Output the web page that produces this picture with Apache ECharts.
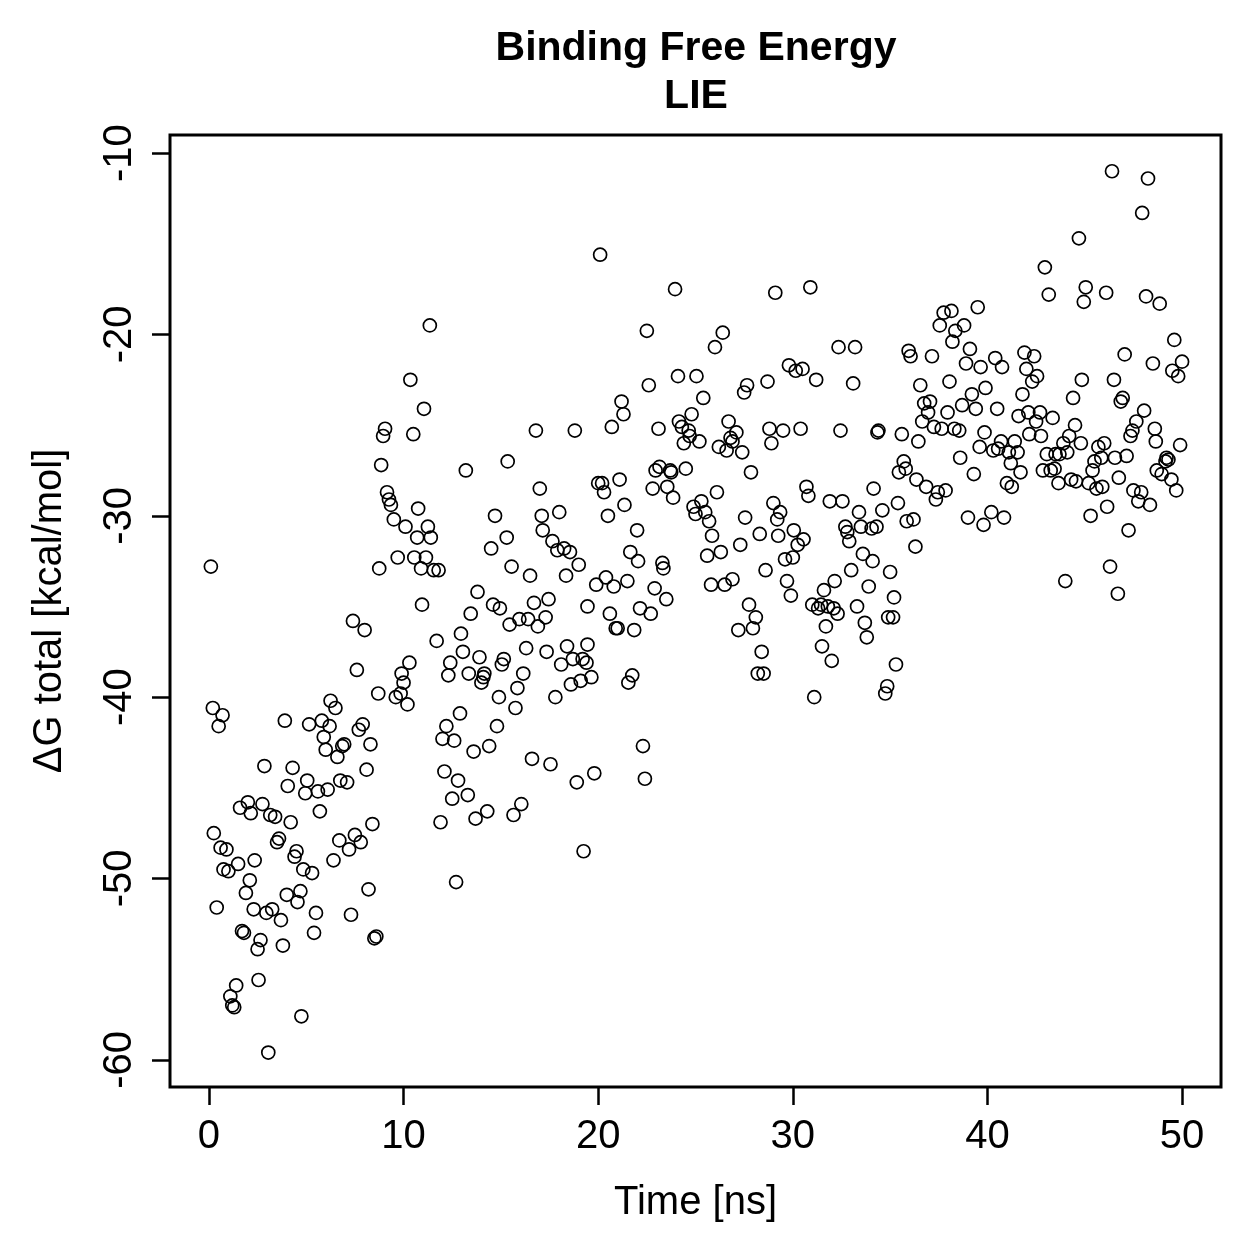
<!DOCTYPE html>
<html>
<head>
<meta charset="utf-8">
<script src="https://cdn.jsdelivr.net/npm/echarts@6/dist/echarts.min.js"></script>
<style>html,body{margin:0;padding:0;background:#fff}#c{width:1259px;height:1259px}</style>
</head>
<body>
<div id="c"></div>
<script>
// Time [ns]
const timeNs = [
0.1,0.2,0.7,0.5,0.25,0.6,0.9,0.4,0.75,1.0,1.1,1.2,1.3,1.4,1.5,1.6,1.7,1.8,1.9,2.0,
2.1,2.15,2.3,2.35,2.5,2.55,2.65,2.75,2.85,2.95,3.05,3.15,3.25,3.4,3.5,3.6,3.7,3.8,3.9,4.0,
4.05,4.2,4.3,4.4,4.5,4.55,4.7,4.75,4.85,4.95,5.05,5.15,5.3,5.4,5.5,5.6,5.7,5.8,5.9,6.0,
6.1,6.2,6.25,6.4,6.5,6.6,6.7,6.75,6.85,6.95,7.1,7.2,7.3,7.4,7.5,7.6,7.7,7.8,7.9,8.0,
8.1,8.2,8.3,8.4,8.5,8.6,8.7,8.75,8.85,8.95,9.05,9.15,9.25,9.35,9.5,9.6,9.7,9.85,9.9,10.0,
10.1,10.2,10.3,10.35,10.5,10.55,10.7,10.75,10.9,10.95,11.05,11.15,11.25,11.35,11.4,11.55,11.7,11.8,11.9,12.0,
12.1,12.2,12.3,12.4,12.5,12.6,12.7,12.8,12.9,12.95,13.05,13.2,13.35,13.3,13.45,13.6,13.7,13.8,13.9,14.0,
14.1,14.15,14.3,14.4,14.5,14.6,14.7,14.8,14.9,14.95,15.05,15.15,15.3,15.35,15.45,15.55,15.65,15.75,15.85,15.95,
16.05,16.15,16.3,16.4,16.5,16.6,16.7,16.8,16.9,17.0,17.1,17.15,17.3,17.35,17.45,17.55,17.65,17.8,17.9,18.0,
18.1,18.25,18.35,18.4,18.55,18.6,18.8,18.7,18.9,19.0,19.1,19.2,19.25,19.4,19.45,19.45,19.65,19.8,19.9,20.0,
20.1,20.2,20.3,20.4,20.5,20.6,20.7,20.8,20.9,21.0,21.1,21.2,21.3,21.35,21.5,21.55,21.65,21.75,21.85,22.0,
22.05,22.15,22.3,22.4,22.5,22.6,22.7,22.8,22.9,22.95,23.1,23.15,23.3,23.35,23.5,23.55,23.7,23.75,23.85,23.95,
24.1,24.15,24.3,24.4,24.5,24.65,24.7,24.8,24.9,25.0,25.05,25.2,25.3,25.4,25.5,25.6,25.7,25.85,25.8,26.0,
26.1,26.2,26.3,26.4,26.5,26.6,26.7,26.8,26.9,26.9,27.1,27.2,27.3,27.4,27.5,27.55,27.65,27.75,27.85,27.95,
28.1,28.2,28.3,28.4,28.5,28.6,28.7,28.8,28.9,29.0,29.1,29.2,29.25,29.35,29.5,29.6,29.7,29.8,29.9,30.0,
30.05,30.15,30.25,30.4,30.5,30.55,30.7,30.8,30.9,31.0,31.1,31.2,31.3,31.45,31.5,31.6,31.7,31.9,31.8,32.0,
32.1,32.15,32.3,32.35,32.45,32.55,32.7,32.8,32.9,33.0,33.2,33.1,33.3,33.4,33.5,33.6,33.7,33.8,34.05,34.1,
34.3,34.15,33.9,34.35,34.4,34.6,34.75,34.85,34.9,35.0,35.15,35.2,35.3,35.4,35.45,35.6,35.7,35.8,35.85,35.95,
36.05,36.2,36.3,36.35,36.45,36.55,36.65,36.75,36.85,36.95,37.05,37.15,37.25,37.35,37.45,37.55,37.65,37.75,37.85,37.95,
38.05,38.15,38.2,38.3,38.35,38.55,38.6,38.7,38.8,38.9,39.0,39.1,39.2,39.3,39.4,39.5,39.6,39.65,39.8,39.85,
39.9,40.2,40.3,40.4,40.5,40.55,40.7,40.75,40.85,41.1,41.0,41.25,41.2,41.4,41.55,41.6,41.7,41.8,41.9,42.0,
42.1,42.15,42.3,42.4,42.5,42.55,42.7,42.75,42.85,42.95,43.05,43.15,43.25,43.35,43.45,43.5,43.65,43.7,43.9,44.0,
44.1,44.2,44.3,44.4,44.5,44.55,44.7,44.8,44.85,44.95,45.05,45.2,45.3,45.4,45.5,45.6,45.7,45.85,45.9,46.0,
46.1,46.15,46.3,46.4,46.5,46.55,46.7,46.75,46.85,46.95,47.05,47.15,47.25,47.35,47.45,47.65,47.5,47.75,47.9,47.95,
48.05,48.15,48.25,48.35,48.5,48.6,48.65,48.7,48.85,48.95,49.15,49.2,49.3,49.45,49.5,49.6,49.7,49.8,49.9,50.0
];
// ΔG total [kcal/mol]
const dGTotal = [
-32.8,-40.6,-41.0,-41.6,-47.5,-48.3,-48.4,-51.6,-49.5,-49.6,-56.5,-57.0,-57.1,-55.9,-49.2,-46.1,-52.9,-53.0,-50.8,-45.8,
-50.1,-46.4,-51.7,-49.0,-53.9,-55.6,-53.4,-45.9,-43.8,-51.9,-59.6,-46.5,-51.7,-46.6,-48.0,-47.8,-52.3,-53.7,-41.3,-50.9,
-44.9,-46.9,-43.9,-48.8,-48.5,-51.3,-50.7,-57.6,-49.5,-45.3,-44.6,-41.5,-49.7,-53.0,-51.9,-45.2,-46.3,-41.3,-42.2,-42.9,
-45.1,-41.6,-40.2,-49.0,-40.6,-43.3,-47.9,-44.6,-42.7,-42.6,-44.7,-48.4,-52.0,-35.8,-47.6,-38.5,-41.8,-48.0,-41.5,-36.3,
-44.0,-50.6,-42.6,-47.0,-53.3,-53.2,-39.8,-32.9,-27.2,-25.6,-25.2,-28.7,-29.1,-29.4,-30.2,-40.0,-32.3,-39.8,-38.7,-39.2,
-30.6,-40.4,-38.1,-22.5,-25.5,-32.3,-31.2,-29.6,-32.9,-34.9,-24.1,-32.3,-30.6,-19.5,-31.2,-33.0,-36.9,-33.0,-46.9,-42.3,
-44.1,-41.6,-38.8,-38.1,-45.6,-42.4,-50.2,-44.6,-40.9,-36.5,-37.5,-27.5,-38.7,-45.4,-35.4,-43.0,-46.7,-34.2,-37.8,-39.2,
-38.9,-38.7,-46.3,-42.7,-31.8,-34.9,-30.0,-41.6,-40.0,-35.1,-38.2,-37.9,-31.2,-27.0,-36.0,-32.8,-46.5,-40.6,-39.5,-35.7,
-45.9,-38.7,-37.3,-35.7,-33.3,-43.4,-34.8,-25.3,-36.1,-28.5,-30.0,-30.8,-35.6,-37.5,-34.6,-43.7,-31.4,-40.0,-31.9,-29.8,
-38.2,-31.8,-33.3,-37.2,-32.0,-39.3,-25.3,-37.9,-44.7,-32.7,-39.1,-37.9,-48.5,-38.1,-35.0,-37.1,-38.9,-44.2,-33.8,-28.2,
-15.6,-28.2,-28.7,-33.4,-30.0,-35.4,-25.1,-33.9,-36.2,-36.2,-28.0,-23.7,-24.4,-29.4,-33.6,-39.2,-32.0,-38.8,-36.3,-30.8,
-32.5,-35.1,-42.7,-44.5,-19.8,-22.8,-35.4,-28.5,-34.0,-27.5,-25.2,-27.3,-32.6,-32.9,-34.6,-28.4,-27.5,-27.6,-29.0,-17.5,
-22.3,-24.8,-25.1,-26.0,-27.4,-25.3,-25.6,-24.4,-29.5,-29.9,-22.3,-25.9,-29.2,-23.5,-29.8,-32.2,-30.3,-31.1,-33.8,-20.7,
-28.7,-26.2,-32.0,-19.9,-33.8,-26.4,-24.8,-25.7,-33.5,-25.9,-25.4,-36.3,-31.6,-26.5,-23.2,-30.1,-22.8,-34.9,-27.6,-36.2,
-35.6,-38.7,-31.0,-37.5,-38.7,-33.0,-22.6,-25.2,-26.0,-29.3,-17.7,-30.2,-31.1,-29.8,-25.3,-32.4,-33.6,-21.7,-34.4,-32.3,
-30.8,-22.0,-31.6,-25.2,-21.9,-31.3,-28.4,-28.9,-17.4,-34.9,-40.0,-22.5,-35.1,-34.9,-37.2,-34.1,-36.1,-29.2,-35.0,-38.0,
-35.1,-33.6,-35.4,-20.7,-25.3,-29.2,-30.6,-30.9,-31.4,-33.0,-20.7,-22.7,-35.0,-29.8,-30.6,-32.1,-35.9,-36.7,-30.7,-32.5,
-30.6,-28.5,-33.9,-25.4,-25.3,-29.7,-39.8,-39.4,-35.6,-33.1,-35.6,-34.5,-38.2,-29.3,-27.6,-25.5,-27.0,-27.4,-30.3,-20.9,
-21.2,-30.2,-31.7,-28.0,-25.9,-22.8,-24.8,-23.8,-28.4,-24.3,-23.7,-21.2,-25.1,-29.1,-28.7,-19.5,-25.2,-18.8,-28.6,-24.3,
-22.6,-18.7,-20.4,-25.2,-19.8,-25.3,-26.8,-23.9,-19.5,-21.6,-30.1,-20.8,-23.3,-27.7,-24.1,-18.5,-26.2,-21.8,-30.5,-25.4,
-22.95,-29.8,-26.4,-21.3,-24.1,-26.3,-25.9,-21.8,-30.1,-26.5,-28.2,-28.4,-27.1,-25.9,-26.5,-24.5,-27.6,-23.3,-21.0,-21.9,
-24.3,-25.5,-22.6,-21.2,-24.8,-22.3,-24.3,-25.6,-27.5,-16.3,-26.6,-17.8,-27.5,-24.6,-27.4,-26.6,-28.2,-26.6,-26.0,-33.6,
-26.5,-25.6,-28.0,-23.5,-25.0,-28.1,-14.7,-26.0,-22.5,-18.2,-17.4,-28.2,-30.0,-27.5,-27.0,-28.5,-26.2,-26.8,-28.4,-26.0,
-17.7,-29.5,-32.8,-11.0,-22.5,-26.8,-34.3,-27.9,-23.7,-23.5,-21.1,-26.7,-30.8,-25.6,-25.3,-24.8,-28.6,-29.2,-28.7,-13.3,
-24.2,-17.9,-11.4,-29.4,-21.6,-25.2,-25.9,-27.5,-18.3,-27.7,-27.0,-26.8,-26.9,-28.0,-22.0,-20.3,-28.6,-22.3,-26.1,-21.5
];
const xTicks = [0, 10, 20, 30, 40, 50];
const yTicks = [-60, -50, -40, -30, -20, -10];

const FONT = '"Liberation Sans", Arial, Helvetica, sans-serif';
const points = timeNs.map((t, i) => [t, dGTotal[i]]);

const chart = echarts.init(document.getElementById('c'), null, {renderer: 'canvas'});
chart.setOption({
  animation: false,
  backgroundColor: '#ffffff',
  title: {
    text: 'Binding Free Energy\nLIE',
    left: 696,
    top: 25,
    padding: 0,
    textAlign: 'center',
    textStyle: {fontFamily: FONT, fontSize: 41, fontWeight: 'bold', color: '#000', lineHeight: 48}
  },
  grid: {
    left: 170, top: 135, width: 1051, height: 952,
    show: true, borderColor: '#000', borderWidth: 3, backgroundColor: 'transparent'
  },
  xAxis: {
    type: 'value', min: -2, max: 52,
    name: 'Time [ns]', nameLocation: 'middle', nameGap: 96,
    nameTextStyle: {fontFamily: FONT, fontSize: 40, color: '#000'},
    axisLine: {show: false, onZero: false},
    splitLine: {show: false},
    axisTick: {show: true, customValues: xTicks, length: 18, lineStyle: {color: '#000', width: 2.5}},
    axisLabel: {show: true, customValues: xTicks, margin: 30, fontFamily: FONT, fontSize: 40, color: '#000'}
  },
  yAxis: {
    type: 'value', min: -61.5, max: -9.0,
    name: 'ΔG total [kcal/mol]', nameLocation: 'middle', nameGap: 100,
    nameTextStyle: {fontFamily: FONT, fontSize: 40, color: '#000'},
    axisLine: {show: false, onZero: false},
    splitLine: {show: false},
    axisTick: {show: true, customValues: yTicks, length: 18, lineStyle: {color: '#000', width: 2.5}},
    axisLabel: {show: true, customValues: yTicks, rotate: 90, margin: 30, fontFamily: FONT, fontSize: 40, color: '#000'}
  },
  series: [{
    type: 'scatter',
    data: points,
    symbol: 'circle',
    symbolSize: 13,
    itemStyle: {color: 'rgba(0,0,0,0)', borderColor: '#000', borderWidth: 1.7, opacity: 1},
    emphasis: {disabled: true}
  }]
});
</script>
</body>
</html>
